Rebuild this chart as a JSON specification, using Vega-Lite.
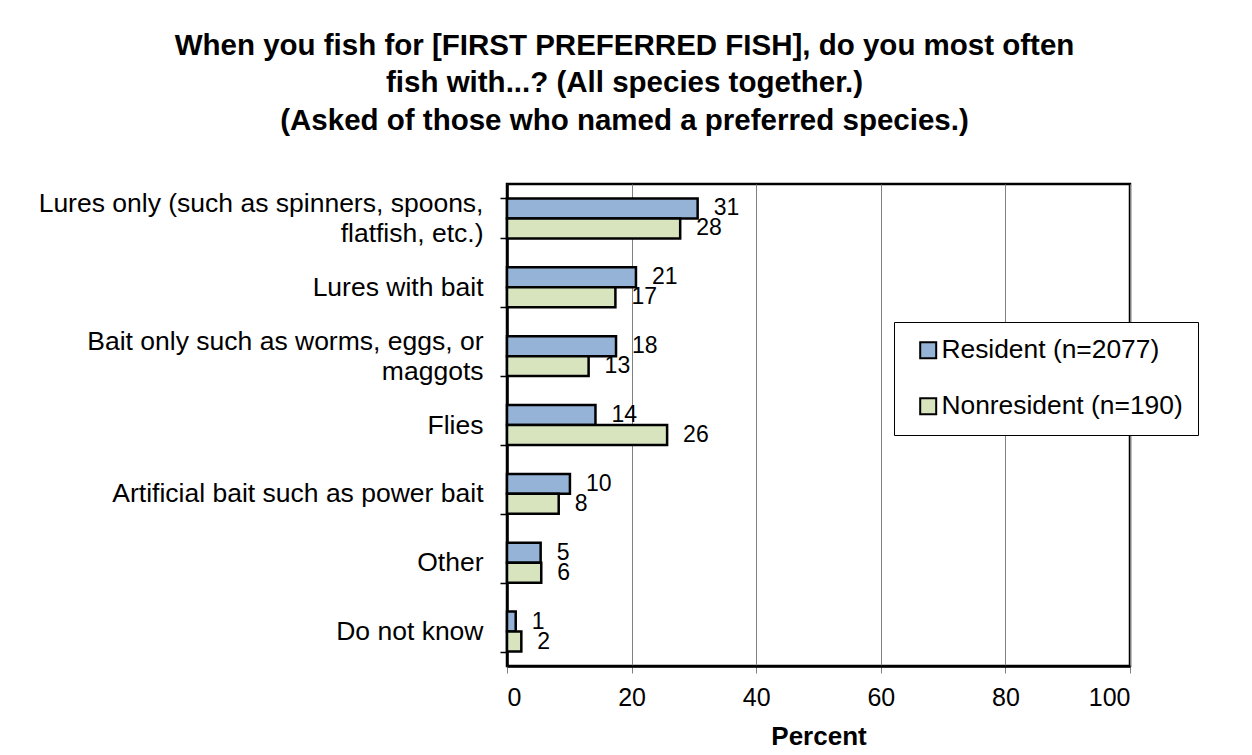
{
  "$schema": "https://vega.github.io/schema/vega-lite/v6.json",
  "autosize": "none",
  "width": 623,
  "height": 482,
  "padding": {"left": 507, "top": 184, "right": 122, "bottom": 89},
  "background": "white",
  "title": {
    "text": ["When you fish for [FIRST PREFERRED FISH], do you most often", "fish with...? (All species together.)", "(Asked of those who named a preferred species.)"],
    "font": "Liberation Sans",
    "fontSize": 29.5,
    "fontWeight": "bold",
    "color": "black",
    "lineHeight": 37.5,
    "anchor": "middle",
    "frame": "group",
    "dx": -194,
    "offset": 35
  },
  "data": {
    "values": [
      {"category": "Lures only (such as spinners, spoons,|flatfish, etc.)", "series": "Resident (n=2077)", "value": 30.6},
      {"category": "Lures only (such as spinners, spoons,|flatfish, etc.)", "series": "Nonresident (n=190)", "value": 27.8},
      {"category": "Lures with bait", "series": "Resident (n=2077)", "value": 20.7},
      {"category": "Lures with bait", "series": "Nonresident (n=190)", "value": 17.4},
      {"category": "Bait only such as worms, eggs, or|maggots", "series": "Resident (n=2077)", "value": 17.5},
      {"category": "Bait only such as worms, eggs, or|maggots", "series": "Nonresident (n=190)", "value": 13.1},
      {"category": "Flies", "series": "Resident (n=2077)", "value": 14.2},
      {"category": "Flies", "series": "Nonresident (n=190)", "value": 25.7},
      {"category": "Artificial bait such as power bait", "series": "Resident (n=2077)", "value": 10.1},
      {"category": "Artificial bait such as power bait", "series": "Nonresident (n=190)", "value": 8.3},
      {"category": "Other", "series": "Resident (n=2077)", "value": 5.4},
      {"category": "Other", "series": "Nonresident (n=190)", "value": 5.5},
      {"category": "Do not know", "series": "Resident (n=2077)", "value": 1.4},
      {"category": "Do not know", "series": "Nonresident (n=190)", "value": 2.3}
    ]
  },
  "encoding": {
    "y": {
      "field": "category",
      "type": "nominal",
      "sort": null,
      "scale": {"paddingInner": 0.42, "paddingOuter": 0.21},
      "axis": {
        "title": null,
        "labelExpr": "isString(datum.value) ? split(datum.value, '|') : ''",
        "labelFont": "Liberation Sans",
        "labelFontSize": 26.5,
        "labelColor": "black",
        "labelLineHeight": 30,
        "labelPadding": 17,
        "labelLimit": 600,
        "labelOffset": {"expr": "isString(datum.value) && indexof(datum.value, '|') >= 0 ? -15 : 0"},
        "tickBand": "extent",
        "tickSize": 7,
        "tickColor": "black",
        "tickWidth": 1.5,
        "domainColor": "black",
        "domainWidth": 2.5
      }
    },
    "yOffset": {
      "field": "series",
      "type": "nominal",
      "sort": ["Resident (n=2077)", "Nonresident (n=190)"]
    }
  },
  "layer": [
    {
      "mark": {"type": "bar", "stroke": "black", "strokeWidth": 2.5},
      "encoding": {
        "x": {
          "field": "value",
          "type": "quantitative",
          "scale": {"domain": [0, 100], "nice": false},
          "axis": {
            "title": "Percent",
            "titleFont": "Liberation Sans",
            "titleFontSize": 26,
            "titleFontWeight": "bold",
            "titleColor": "black",
            "titlePadding": 13,
            "values": [0, 20, 40, 60, 80, 100],
            "labelFont": "Liberation Sans",
            "labelFontSize": 25,
            "labelColor": "black",
            "labelPadding": 12,
            "tickSize": 7,
            "tickColor": "#808080",
            "domainColor": "black",
            "domainWidth": 2.5,
            "grid": true,
            "gridColor": "#808080",
            "gridWidth": 1
          }
        },
        "color": {
          "field": "series",
          "type": "nominal",
          "sort": ["Resident (n=2077)", "Nonresident (n=190)"],
          "scale": {"domain": ["Resident (n=2077)", "Nonresident (n=190)"], "range": ["#95B3D7", "#D7E4BD"]},
          "legend": {
            "title": null,
            "orient": "none",
            "legendX": 387,
            "legendY": 138,
            "strokeColor": "black",
            "fillColor": "white",
            "padding": 15,
            "symbolType": "square",
            "symbolSize": 256,
            "symbolStrokeColor": "black",
            "symbolStrokeWidth": 2,
            "symbolOffset": 6,
            "labelFont": "Liberation Sans",
            "labelFontSize": 26.4,
            "labelColor": "black",
            "labelOffset": 0,
            "labelLimit": 400,
            "rowPadding": 29
          }
        }
      }
    },
    {
      "mark": {"type": "text", "align": "left", "baseline": "middle", "dx": 16, "font": "Liberation Sans", "fontSize": 23, "color": "black"},
      "encoding": {
        "x": {"field": "value", "type": "quantitative"},
        "text": {"field": "value", "type": "quantitative", "format": ".0f"}
      }
    }
  ],
  "config": {
    "view": {"stroke": "black", "strokeWidth": 2.5}
  }
}
